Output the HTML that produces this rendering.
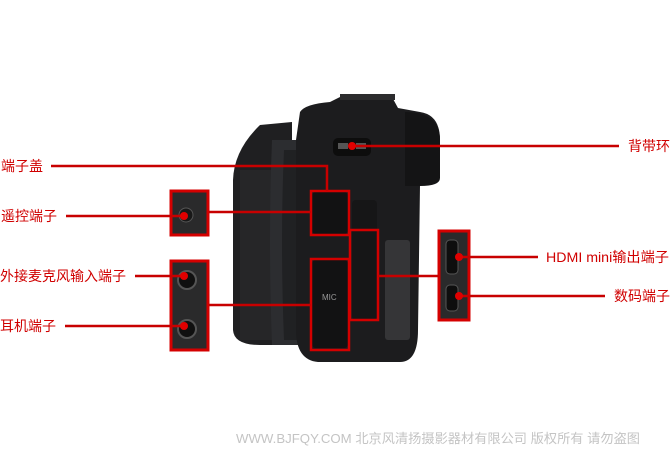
<!DOCTYPE html>
<html><head><meta charset="utf-8"><style>
html,body{margin:0;padding:0;background:#fff;}
svg{display:block;}
text{font-family:"Liberation Sans","Noto Sans CJK SC",sans-serif;}
</style></head><body>
<svg width="670" height="460" viewBox="0 0 670 460" xmlns="http://www.w3.org/2000/svg">
<rect width="670" height="460" fill="#fff"/>
<!-- camera -->
<path d="M260 125 L292 122 L292 345 L260 345 Q234 345 233 330 L233 180 Q234 150 260 125Z" fill="#1f1f21"/>
<rect x="240" y="170" width="50" height="170" fill="#262628"/>
<path d="M272 140 Q268 240 272 345 L305 345 L305 140Z" fill="#2c2d30"/>
<path d="M284 150 Q280 240 284 340 L300 340 L300 150Z" fill="#202123"/>
<path d="M300 112 Q305 104 330 102 L340 97 L392 97 L398 108 L420 112 Q440 115 440 140 L440 175 Q440 186 420 185 L418 330 Q418 362 400 362 L318 362 Q296 360 296 330 L296 140 Z" fill="#1c1c1e"/>
<rect x="340" y="94" width="55" height="6" fill="#2c2c2e"/>
<path d="M405 112 Q440 112 440 140 L440 178 Q440 186 420 186 L405 186Z" fill="#141415"/>
<rect x="333" y="138" width="38" height="18" rx="5" fill="#0d0d0d"/>
<rect x="338" y="143" width="10" height="6" fill="#555"/><rect x="356" y="143" width="10" height="6" fill="#555"/>
<rect x="385" y="240" width="25" height="100" rx="3" fill="#353537"/>
<rect x="312" y="192" width="36" height="42" rx="4" fill="#121213"/>
<rect x="312" y="260" width="36" height="88" rx="4" fill="#121213"/>
<rect x="352" y="200" width="25" height="120" rx="4" fill="#161617"/>
<text x="322" y="300" font-size="8" fill="#999">MIC</text>
<!-- inset boxes -->
<rect x="171" y="191" width="37" height="44" fill="#2a2a2b" stroke="#d40000" stroke-width="3"/>
<circle cx="186" cy="215" r="7" fill="#181818" stroke="#555"/>
<rect x="171" y="261" width="37" height="89" fill="#2a2a2b" stroke="#d40000" stroke-width="3"/>
<circle cx="187" cy="280" r="9" fill="#101010" stroke="#555" stroke-width="2"/>
<circle cx="187" cy="329" r="9" fill="#101010" stroke="#555" stroke-width="2"/>
<rect x="439" y="231" width="30" height="89" fill="#2a2a2b" stroke="#d40000" stroke-width="3"/>
<rect x="446" y="240" width="12" height="34" rx="4" fill="#0e0e0e" stroke="#555"/>
<rect x="446" y="285" width="12" height="26" rx="4" fill="#0e0e0e" stroke="#555"/>
<!-- red boxes on camera -->
<g fill="none" stroke="#d40000" stroke-width="2.5">
<rect x="311" y="191" width="38" height="44"/>
<rect x="311" y="259" width="38" height="91"/>
<rect x="350" y="230" width="28" height="90"/>
</g>
<!-- lines -->
<g stroke="#c80000" stroke-width="2.5" fill="none">
<path d="M51 166 H327 V191"/>
<path d="M66 216 H184"/>
<path d="M209 212 H311"/>
<path d="M135 276 H184"/>
<path d="M65 326 H184"/>
<path d="M209 305 H311"/>
<path d="M378 276 H439"/>
<path d="M352 146 H619"/>
<path d="M459 257 H538"/>
<path d="M459 296 H605"/>
</g>
<g fill="#e00000">
<circle cx="184" cy="216" r="4"/><circle cx="184" cy="276" r="4"/><circle cx="184" cy="326" r="4"/>
<circle cx="352" cy="146" r="4"/><circle cx="459" cy="257" r="4"/><circle cx="459" cy="296" r="4"/>
</g>
<g fill="#d00000" font-size="14">
<text x="1" y="171">端子盖</text>
<text x="1" y="221">遥控端子</text>
<text x="0" y="281">外接麦克风输入端子</text>
<text x="0" y="331">耳机端子</text>
<text x="628" y="151">背带环</text>
<text x="546" y="262" textLength="123" lengthAdjust="spacingAndGlyphs">HDMI mini输出端子</text>
<text x="614" y="301">数码端子</text>
</g>
<text x="236" y="443" font-size="13" fill="#c4c4c4" textLength="404" lengthAdjust="spacingAndGlyphs">WWW.BJFQY.COM 北京风清扬摄影器材有限公司 版权所有 请勿盗图</text>
</svg>
</body></html>
